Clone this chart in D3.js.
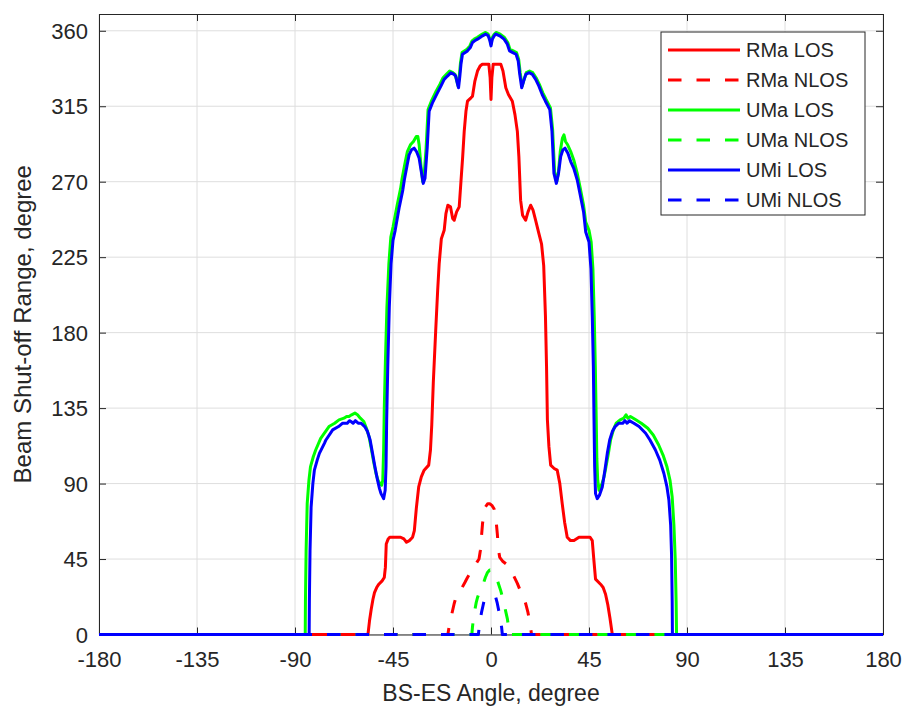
<!DOCTYPE html>
<html>
<head>
<meta charset="utf-8">
<script src="https://cdn.jsdelivr.net/npm/d3@7"></script>
<style>
  body { margin: 0; background: #fff; }
  svg { display: block; font-family: "Liberation Sans", Arial, sans-serif; }
</style>
</head>
<body>
<svg id="chart" width="905" height="711"></svg>
<script>
// tick values
const xTicks = [-180, -135, -90, -45, 0, 45, 90, 135, 180];
const yTicks = [0, 45, 90, 135, 180, 225, 270, 315, 360];

const seriesNames = ['RMa LOS', 'RMa NLOS', 'UMa LOS', 'UMa NLOS', 'UMi LOS', 'UMi NLOS'];

// [BS-ES angle, shut-off range]
const rmaLos = [
  [-180, 0], [-56.5, 0], [-55.8, 8], [-55, 15], [-54.2, 21], [-53.5, 25], [-52.5, 28], [-51.5, 30],
  [-50, 32], [-49, 34], [-48.5, 40], [-48.1, 54], [-47.2, 57], [-46.5, 58], [-44, 58], [-41.5, 58],
  [-40, 57], [-38.8, 55], [-37.5, 56], [-36, 58], [-35.2, 62], [-34.3, 75], [-33.2, 88], [-32, 94],
  [-30.7, 98], [-28.6, 101], [-27.8, 110], [-27.2, 125], [-26.5, 150], [-25.4, 181], [-24.5, 205],
  [-23.8, 221], [-22.8, 236], [-21.5, 241], [-20.7, 251], [-19.8, 256], [-18.6, 255], [-17.6, 248],
  [-16.9, 247], [-15.8, 252], [-14.6, 255], [-13.8, 270], [-13, 285], [-12.3, 300], [-11.5, 312],
  [-10.8, 318], [-9.2, 320], [-8.5, 321], [-7.4, 330], [-6.2, 336], [-5, 339], [-4, 340], [-1, 340],
  [-0.4, 332], [0, 319], [0.4, 332], [1, 340], [4.5, 340], [5.5, 336], [6.8, 326], [8, 322],
  [9.8, 318], [11, 310], [12.1, 300], [12.8, 285], [13.6, 259], [14.5, 250], [15.9, 247], [17, 252],
  [18.2, 256], [19.3, 253], [20.5, 247], [22, 239], [23.2, 233], [24.2, 220], [25, 190], [25.5, 160],
  [25.9, 128], [26.6, 112], [27.4, 101], [29, 99], [30.4, 98], [31.6, 90], [32.7, 78], [33.8, 67],
  [35, 58], [36.5, 56], [38.1, 56], [40.4, 58], [43, 58], [45.5, 58], [46.5, 56], [47.2, 45],
  [48, 33], [50.3, 30], [51.5, 28], [52.6, 24], [53.6, 18], [54.6, 10], [55.7, 0], [180, 0]
];

const rmaNlos = [
  [-180, 0], [-19.8, 0], [-19.2, 5], [-18.2, 11], [-16.9, 18.5], [-16, 22.5], [-13.9, 26.5], [-12, 31],
  [-10.8, 34], [-8.5, 39], [-6.5, 43], [-5.5, 45], [-4.9, 50], [-4.4, 58], [-3.9, 66], [-3.3, 72],
  [-2.6, 76], [-1.5, 78], [-0.6, 78], [0.4, 77], [1.4, 75], [2.2, 70], [2.9, 60], [3.5, 50], [4, 46],
  [5.5, 43.5], [7.5, 41.5], [9.5, 37.5], [12.1, 30.5], [13.5, 26], [15, 22], [15.9, 18.5], [17, 13],
  [17.8, 7], [18.3, 3], [18.6, 0], [180, 0]
];

const umaLos = [
  [-180, 0], [-85.3, 0], [-85.2, 20], [-84.9, 50], [-84.4, 78], [-83.6, 92], [-82.9, 100], [-81.6, 106],
  [-80.5, 110], [-78.2, 117], [-74.4, 124], [-71.8, 126], [-69.8, 128], [-67.5, 129], [-66.3, 130],
  [-65.2, 130], [-64, 131], [-62.5, 132], [-61.3, 131], [-60, 129], [-58.4, 127], [-57.2, 123],
  [-56, 118], [-55, 111], [-53.9, 103], [-52.8, 96], [-51.9, 92], [-51, 90], [-50.2, 89], [-49.7, 92],
  [-49.3, 110], [-49, 135], [-48.5, 162], [-47.8, 195], [-46.9, 221], [-46, 237], [-45, 243],
  [-43.1, 256], [-41.5, 266], [-40.8, 272], [-39.5, 281], [-38.4, 288], [-37, 292], [-35.6, 294],
  [-34.3, 297], [-33.6, 297], [-33, 292], [-32.2, 280], [-31.4, 270], [-30.8, 272], [-29.8, 290],
  [-28.9, 313], [-27.4, 318], [-25.2, 324], [-23.5, 328], [-22, 332], [-20.5, 334], [-19, 336],
  [-17.5, 335], [-16.5, 334], [-15.7, 330], [-15.1, 327], [-14.5, 334], [-14, 341], [-13.3, 347],
  [-11, 349], [-9.7, 351], [-8.7, 354], [-7.7, 355], [-6.4, 356], [-5.2, 357], [-4, 358], [-2.5, 359],
  [-1.3, 358], [-0.5, 355], [0, 352], [0.6, 356], [1.5, 358], [2.4, 359], [4.2, 358], [6.2, 356],
  [7.7, 353], [8.7, 349], [10.2, 348], [11.7, 347], [12.7, 343], [13.4, 335], [14.3, 327], [15.2, 331],
  [16.2, 335], [17.7, 336], [19.2, 335], [20.7, 332], [22.2, 328], [23.8, 323], [25.3, 319],
  [27.3, 314], [28.3, 301], [29.2, 276], [30.2, 270], [31, 276], [31.8, 288], [32.8, 296], [33.5, 298],
  [34.2, 294], [35.2, 292], [36.6, 288], [38, 283], [39.6, 275], [41, 266], [42.5, 256], [43.5, 246],
  [45, 241], [46, 234], [46.8, 218], [47.4, 190], [47.9, 160], [48.3, 130], [48.6, 105], [49, 92],
  [49.6, 86], [50.2, 88], [51, 90], [51.9, 94], [52.8, 100], [53.9, 108], [54.9, 116], [56.2, 122],
  [57.5, 126], [59.3, 128], [61, 129], [62, 131], [62.8, 129], [64, 130], [66.5, 128], [69, 126],
  [72, 123], [74.5, 119], [77, 113], [79, 107], [80.8, 100], [82.2, 92], [83.2, 82], [84, 65],
  [84.6, 45], [85, 20], [85.2, 0], [180, 0]
];

const umaNlos = [
  [-180, 0], [-8.8, 0], [-8.5, 4.5], [-8.1, 9], [-7.5, 14], [-6.8, 19], [-6.2, 22], [-5.4, 25],
  [-4.7, 27], [-3.6, 30], [-2.6, 34], [-1.6, 37], [-0.6, 38.5], [0.6, 38], [1.6, 37], [2.5, 34],
  [3.5, 30], [4.5, 26], [5.3, 22], [6, 18.5], [6.8, 13.5], [7.5, 9.5], [8, 5], [8.3, 0], [180, 0]
];

const umiLos = [
  [-180, 0], [-83.5, 0], [-83.4, 20], [-83.1, 50], [-82.6, 76], [-81.8, 90], [-81.1, 98], [-79.8, 104],
  [-78.8, 108], [-76.5, 114], [-75.8, 116], [-72.7, 122], [-70, 124], [-68.1, 126], [-66, 126],
  [-65, 127.5], [-64.3, 127], [-63.3, 126], [-62.3, 127.5], [-61, 126], [-59.7, 126], [-58, 124],
  [-56.7, 121], [-55.5, 116], [-54.4, 108], [-53.3, 100], [-52.1, 92], [-51.2, 87], [-50.5, 84],
  [-49.3, 81], [-48.6, 86], [-48.2, 100], [-47.9, 128], [-47.4, 160], [-46.7, 195], [-45.9, 221],
  [-45, 235], [-44, 241], [-42.1, 255], [-40.5, 265], [-39.8, 271], [-38.5, 280], [-37.6, 286],
  [-36.5, 289], [-35.3, 290], [-34.2, 288], [-33, 284], [-32, 276], [-31.1, 269], [-30.3, 272],
  [-29.3, 290], [-28.4, 312], [-26.9, 317], [-24.6, 323], [-23, 327], [-21.5, 331], [-20, 333],
  [-18.4, 335], [-17, 334], [-16.2, 333], [-15.5, 329], [-14.9, 326], [-14.3, 333], [-13.8, 340],
  [-13.1, 346], [-10.8, 348], [-9.5, 350], [-8.5, 353], [-7.5, 354], [-6.2, 355], [-5, 356],
  [-3.9, 357], [-2.4, 358], [-1.3, 357], [-0.5, 354], [0, 351], [0.6, 355], [1.5, 357], [2.2, 358],
  [4, 357], [6, 355], [7.5, 352], [8.5, 348], [10, 347], [11.5, 346], [12.5, 342], [13.2, 334],
  [14.1, 326], [15, 330], [16, 334], [17.5, 335], [19, 334], [20.5, 331], [22, 327], [23.5, 322],
  [25, 318], [27, 313], [28, 300], [28.9, 275], [30, 269], [31, 275], [32, 285], [33, 289], [34, 290],
  [35.3, 287], [36.6, 282], [38, 278], [39.6, 271], [41, 262], [42.5, 252], [43.5, 240], [45, 234],
  [45.9, 218], [46.5, 190], [47, 160], [47.3, 128], [47.6, 100], [48, 84], [48.8, 81], [49.8, 83],
  [51.1, 88], [52.3, 98], [53.4, 108], [54.5, 116], [55.7, 121], [57, 124], [58.7, 126], [60.5, 126],
  [61.5, 127.5], [62.5, 126], [63.5, 127.5], [65.6, 126], [68, 124], [71, 120], [73, 116],
  [75.5, 110], [77.5, 104], [79.4, 96], [80.8, 88], [81.7, 80], [82.5, 65], [82.9, 48], [83.2, 20],
  [83.3, 0], [180, 0]
];

const umiNlos = [
  [-180, 0], [-5.8, 0], [-5.4, 4.5], [-4.9, 9], [-4.3, 13.5], [-3.7, 17], [-3.2, 20], [-2.4, 21.5],
  [-1.2, 22.5], [0, 23], [1.2, 22.5], [2.2, 22], [2.9, 18.5], [3.6, 14], [4.2, 10], [4.6, 6.5],
  [4.9, 4], [5.2, 0], [180, 0]
];

const seriesData = [rmaLos, rmaNlos, umaLos, umaNlos, umiLos, umiNlos];
const seriesColors = ['#ff0000', '#ff0000', '#00ff00', '#00ff00', '#0000ff', '#0000ff'];
const seriesDashed = [false, true, false, true, false, true];

const axisColor = '#262626';
const gridColor = '#dedede';
const dash = '13.5,15';
const lw = 3;

const plot = { left: 99, right: 883, top: 14, bottom: 634.5 };

const svg = d3.select('#chart');

const x = d3.scaleLinear()
  .domain([-180, 180])
  .range([plot.left, plot.right]);

const y = d3.scaleLinear()
  .domain([0, 370])
  .range([plot.bottom, plot.top]);

svg.append('rect')
  .attr('width', 905)
  .attr('height', 711)
  .attr('fill', '#fff');

// grid
const grid = svg.append('g');
grid.selectAll('.gx')
  .data(xTicks)
  .enter()
  .append('line')
    .attr('x1', (d) => x(d))
    .attr('x2', (d) => x(d))
    .attr('y1', plot.top)
    .attr('y2', plot.bottom)
    .attr('stroke', gridColor);

grid.selectAll('.gy')
  .data(yTicks)
  .enter()
  .append('line')
    .attr('x1', plot.left)
    .attr('x2', plot.right)
    .attr('y1', (d) => y(d))
    .attr('y2', (d) => y(d))
    .attr('stroke', gridColor);

// axes with inward ticks on all four sides (box on)
const tickLen = 7;
const plain = (d) => String(d); // keep ascii hyphen like matlab

const bottomAxis = svg.append('g')
  .attr('transform', `translate(0, ${plot.bottom})`)
  .call(d3.axisBottom(x).tickValues(xTicks).tickFormat(plain)
    .tickSize(-tickLen).tickPadding(17).tickSizeOuter(0));

const leftAxis = svg.append('g')
  .attr('transform', `translate(${plot.left}, 0)`)
  .call(d3.axisLeft(y).tickValues(yTicks).tickFormat(plain)
    .tickSize(-tickLen).tickPadding(17).tickSizeOuter(0));

svg.append('g')
  .attr('transform', `translate(0, ${plot.top})`)
  .call(d3.axisTop(x).tickValues(xTicks).tickSize(-tickLen).tickFormat('').tickSizeOuter(0));

svg.append('g')
  .attr('transform', `translate(${plot.right}, 0)`)
  .call(d3.axisRight(y).tickValues(yTicks).tickSize(-tickLen).tickFormat('').tickSizeOuter(0));

svg.selectAll('.domain, .tick line')
  .attr('stroke', axisColor);

[bottomAxis, leftAxis].forEach((a) => {
  a.selectAll('text')
    .attr('fill', axisColor)
    .style('font-size', '22px');
});

leftAxis.selectAll('text')
  .attr('x', -11)
  .attr('dy', '0.35em');

svg.append('text')
  .attr('x', (plot.left + plot.right) / 2)
  .attr('y', 701)
  .attr('text-anchor', 'middle')
  .attr('fill', axisColor)
  .style('font-size', '23px')
  .text('BS-ES Angle, degree');

svg.append('text')
  .attr('transform', `translate(31, ${(plot.top + plot.bottom) / 2}) rotate(-90)`)
  .attr('text-anchor', 'middle')
  .attr('fill', axisColor)
  .style('font-size', '24px')
  .text('Beam Shut-off Range, degree');

// data lines
const line = d3.line()
  .x((d) => x(d[0]))
  .y((d) => y(d[1]));

svg.append('g')
  .selectAll('path')
  .data(seriesData)
  .enter()
  .append('path')
    .attr('d', line)
    .attr('fill', 'none')
    .attr('stroke', (d, i) => seriesColors[i])
    .attr('stroke-width', lw)
    .attr('stroke-linejoin', 'round')
    .attr('stroke-dasharray', (d, i) => (seriesDashed[i] ? dash : null));

// legend
const legend = { x: 661, y: 32, w: 204, h: 183, row: 30, first: 50 };

const lg = svg.append('g');
lg.append('rect')
  .attr('x', legend.x)
  .attr('y', legend.y)
  .attr('width', legend.w)
  .attr('height', legend.h)
  .attr('fill', '#fff')
  .attr('stroke', axisColor);

const rows = lg.selectAll('.row')
  .data(seriesNames)
  .enter()
  .append('g')
    .attr('transform', (d, i) => `translate(0, ${legend.first + i * legend.row})`);

rows.append('line')
  .attr('x1', 668)
  .attr('x2', 740)
  .attr('stroke', (d, i) => seriesColors[i])
  .attr('stroke-width', lw)
  .attr('stroke-dasharray', (d, i) => (seriesDashed[i] ? dash : null));

rows.append('text')
  .attr('x', 746)
  .attr('dy', '0.35em')
  .attr('fill', axisColor)
  .style('font-size', '20px')
  .text((d) => d);
</script>
</body>
</html>
